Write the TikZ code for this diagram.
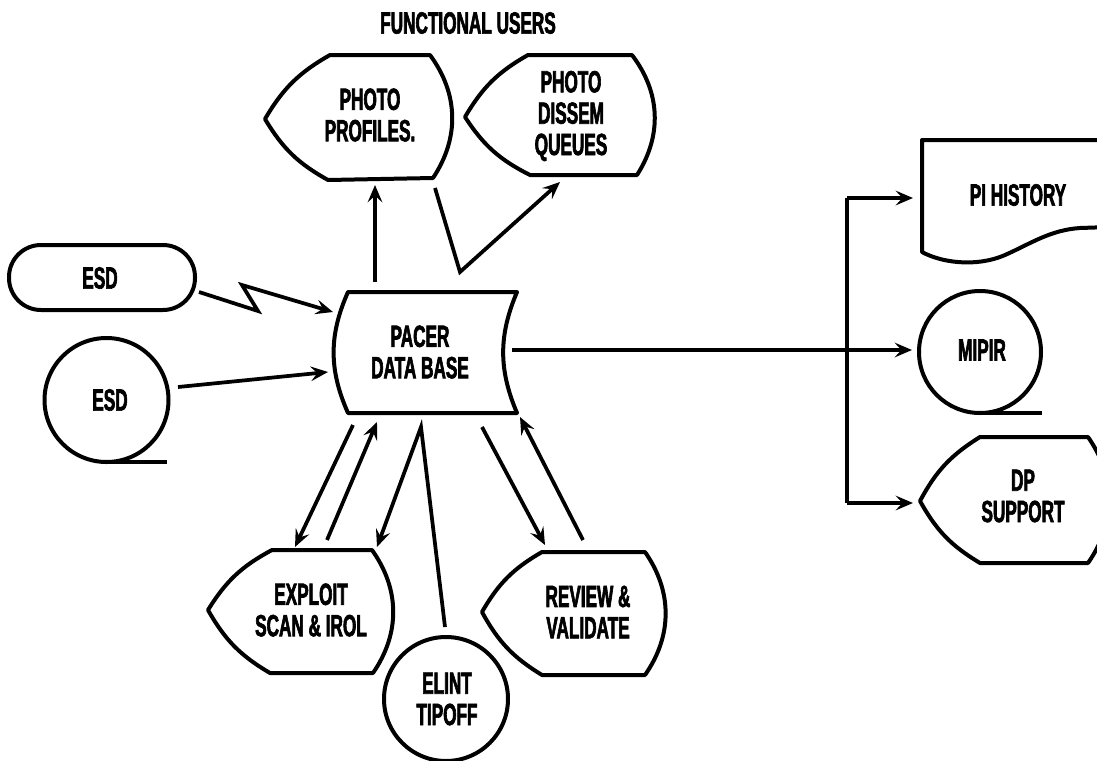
\documentclass[tikz,border=0pt]{standalone}
\usepackage{fontspec}
\newfontfamily\labfont{Liberation Sans}[FakeStretch=0.56,FakeBold=2]
\usetikzlibrary{arrows.meta}
\tikzset{
  shp/.style={line width=3pt, line join=round},
  con/.style={line width=2.8pt, line join=miter},
  arr/.style={con, -{Stealth[length=13pt,width=11pt,inset=5pt]}},
  lbl/.style={font=\labfont\bfseries\fontsize{23}{23.5}\selectfont, align=center, inner sep=0pt},
  lb/.style={bend left=15}
}
\begin{document}
\begin{tikzpicture}[x=0.75pt,y=-0.75pt]
\useasboundingbox (0,0) rectangle (1097,761);
\clip (0,0) rectangle (1097,761);
\fill[white] (0,0) rectangle (1097,761);

% title
\node[lbl] (title) at (468,23) {FUNCTIONAL USERS};

% PHOTO PROFILES
\draw[shp] (265,119) to[lb] (330,55) -- (430,55) to[bend left=35] (433,178) -- (328,180) to[lb] cycle;
\node[lbl] (pp) at (370,115) {PHOTO\\PROFILES.};
% PHOTO DISSEM QUEUES
\draw[shp] (465,117) to[lb] (528,55) -- (632,55) to[bend left=35] (637,175) -- (530,175) to[lb] cycle;
\node[lbl] (pdq) at (571,116) {PHOTO\\DISSEM\\QUEUES};

% ESD stadium
\draw[shp, rounded corners=24pt] (9,245) rectangle (195,310);
\node[lbl] (esd1) at (100,278) {ESD};
% ESD tape
\draw[shp] (106.5,400) circle[radius=62];
\draw[shp] (106.5,462) -- (167,462);
\node[lbl] (esd2) at (110,400) {ESD};

% PACER
\draw[shp] (348,292) -- (517,292) to[bend right=23] (517,413) -- (348,413) to[bend left=24] cycle;
\node[lbl] (pacer) at (420,352) {PACER\\DATA BASE};

% EXPLOIT
\draw[shp] (208,610) to[lb] (272,550) -- (372,550) to[bend left=35] (373,673) -- (270,673) to[lb] cycle;
\node[lbl] (expl) at (311,610) {EXPLOIT\\SCAN \& IROL};
% REVIEW
\draw[shp] (482,612) to[lb] (542,552) -- (645,552) to[bend left=35] (645,675) -- (542,675) to[lb] cycle;
\node[lbl] (rev) at (588,612) {REVIEW \&\\VALIDATE};
% ELINT
\draw[shp] (446,699) circle[radius=62];
\node[lbl] (elint) at (447,699) {ELINT\\TIPOFF};

% PI HISTORY
\draw[shp] (1110,140) -- (922,140) -- (922,252) .. controls (940,262) and (975,268) .. (1005,255) .. controls (1030,244) and (1050,230) .. (1080,228) -- (1110,227);
\node[lbl] (pih) at (1018,195) {PI HISTORY};
% MIPIR
\draw[shp] (980,352) circle[radius=61];
\draw[shp] (980,413) -- (1042,413);
\node[lbl] (mipir) at (982,350) {MIPIR};
% DP SUPPORT
\draw[shp] (920,501) to[lb] (980,437) -- (1088,437) to[bend left=35] (1088,563) -- (980,563) to[lb] cycle;
\node[lbl] (dps) at (1023,496) {DP\\SUPPORT};

% connector coordinates
\coordinate (l0) at (199,292);
\coordinate (l1) at (258,311);
\coordinate (l2) at (242,285);
\coordinate (l3) at (333,312);
\coordinate (e2a) at (178,387);
\coordinate (e2b) at (328,372);
\coordinate (upa) at (375,282);
\coordinate (upb) at (375,185);
\coordinate (va) at (435,188);
\coordinate (vb) at (460,272);
\coordinate (vc) at (560,182);
\coordinate (ra) at (512,350);
\coordinate (rb) at (912,350);
\coordinate (bt) at (847,198);
\coordinate (bb) at (847,503);
\coordinate (bt2) at (913,198);
\coordinate (bb2) at (913,503);
\coordinate (d1a) at (353,425);
\coordinate (d1b) at (295,547);
\coordinate (d2a) at (327,540);
\coordinate (d2b) at (377,422);
\coordinate (apex) at (421,427);
\coordinate (d3b) at (377,547);
\coordinate (d4b) at (445,627);
\coordinate (d5a) at (482,427);
\coordinate (d5b) at (545,545);
\coordinate (d6a) at (583,540);
\coordinate (d6b) at (520,417);

% connectors
\draw[arr] (l0) -- (l1) -- (l2) -- (l3);
\draw[arr] (e2a) -- (e2b);
\draw[arr] (upa) -- (upb);
\draw[arr] (va) -- (vb) -- (vc);
\draw[arr] (ra) -- (rb);
\draw[con] (bt) -- (bb);
\draw[arr] (bt) -- (bt2);
\draw[arr] (bb) -- (bb2);
\draw[arr] (d1a) -- (d1b);
\draw[arr] (d2a) -- (d2b);
\draw[arr] (d4b) -- (apex) -- (d3b);
\draw[arr] (d5a) -- (d5b);
\draw[arr] (d6a) -- (d6b);
\end{tikzpicture}
\end{document}
